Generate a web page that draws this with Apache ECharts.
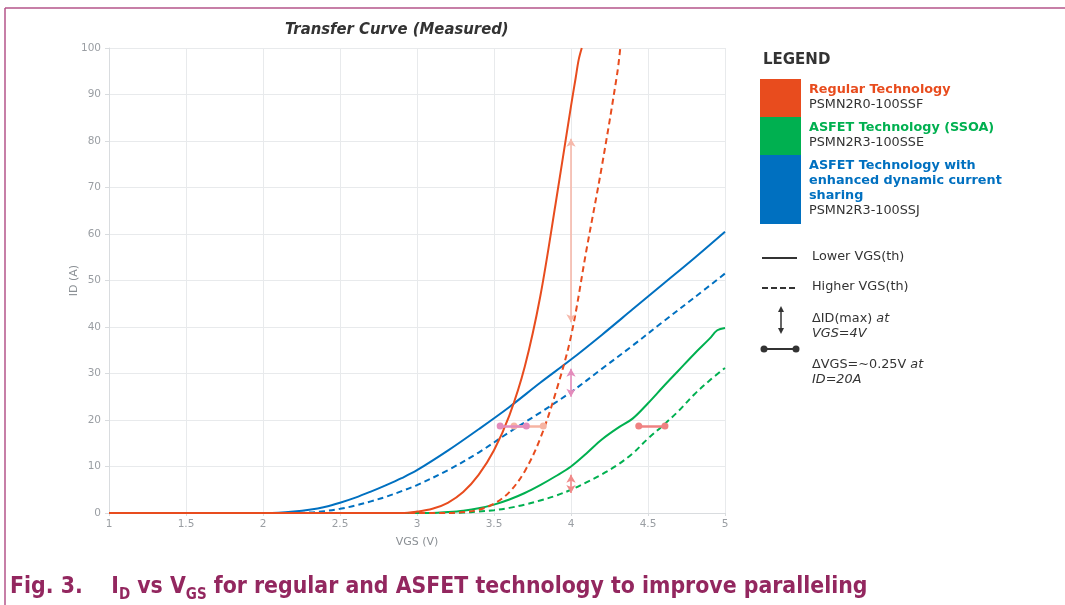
<!DOCTYPE html>
<html>
<head>
<meta charset="utf-8">
<script src="https://cdn.jsdelivr.net/npm/echarts@6/dist/echarts.min.js"></script>
<style>html,body{margin:0;padding:0;background:#fff;}#c{width:1065px;height:605px;}</style>
</head>
<body>
<div id="c"></div>
<script>
// ---- Data ----
const xTicks = [1, 1.5, 2, 2.5, 3, 3.5, 4, 4.5, 5];
const yTicks = [0, 10, 20, 30, 40, 50, 60, 70, 80, 90, 100];

const vgsRegularLow = [1, 2.9, 3.0, 3.1, 3.2, 3.3, 3.4, 3.5, 3.6, 3.7, 3.8, 3.9, 4.0, 4.03, 4.05, 4.07];
const idRegularLow  = [0, 0, 0.3, 0.9, 2.2, 4.5, 8.2, 13.5, 21.0, 31.5, 46.5, 66.5, 87.5, 93.5, 97.5, 100];

const vgsRegularHigh = [1, 3.2, 3.3, 3.4, 3.5, 3.6, 3.7, 3.8, 3.9, 4.0, 4.1, 4.2, 4.3, 4.32];
const idRegularHigh  = [0, 0, 0.2, 0.7, 2.0, 4.5, 9.0, 16.0, 25.8, 38.0, 56.5, 74.5, 94.5, 100];

const vgsSsoaLow = [1, 3.1, 3.2, 3.3, 3.4, 3.5, 3.6, 3.7, 3.8, 3.9, 4.0, 4.1, 4.2, 4.3, 4.4, 4.5, 4.6, 4.7, 4.8, 4.9, 4.95, 5.0];
const idSsoaLow  = [0, 0, 0.2, 0.5, 1.0, 1.8, 2.9, 4.3, 6.0, 7.9, 10.0, 12.8, 15.8, 18.2, 20.3, 23.6, 27.2, 30.7, 34.2, 37.5, 39.3, 39.8];

const vgsSsoaHigh = [1, 3.2, 3.3, 3.4, 3.5, 3.6, 3.7, 3.8, 3.9, 4.0, 4.1, 4.2, 4.3, 4.4, 4.5, 4.6, 4.7, 4.8, 4.9, 5.0];
const idSsoaHigh  = [0, 0, 0.1, 0.3, 0.6, 1.1, 1.8, 2.7, 3.7, 5.0, 6.6, 8.3, 10.3, 12.8, 16.0, 18.9, 22.0, 25.5, 28.5, 31.2];

const vgsSharingLow = [1, 2.0, 2.1, 2.2, 2.3, 2.4, 2.5, 2.6, 2.7, 2.8, 2.9, 3.0, 3.2, 3.4, 3.6, 3.8, 4.0, 4.2, 4.4, 4.6, 4.8, 5.0];
const idSharingLow  = [0, 0, 0.05, 0.3, 0.7, 1.3, 2.2, 3.3, 4.6, 6.0, 7.5, 9.2, 13.4, 18.0, 22.8, 28.0, 33.0, 38.3, 43.8, 49.3, 54.8, 60.5];

const vgsSharingHigh = [1, 2.2, 2.3, 2.4, 2.5, 2.6, 2.7, 2.8, 2.9, 3.0, 3.2, 3.4, 3.6, 3.8, 4.0, 4.2, 4.4, 4.6, 4.8, 5.0];
const idSharingHigh  = [0, 0, 0.1, 0.4, 0.9, 1.6, 2.5, 3.5, 4.7, 6.0, 9.2, 13.0, 17.4, 21.6, 26.0, 31.0, 36.0, 41.2, 46.3, 51.5];

// Annotations: ΔID(max) at VGS = 4 V, ΔVGS at ID ≈ 20 A
const arrowVgs = 4;
const arrowRegular = [41, 80.5];
const arrowSharing = [25, 31];
const arrowSsoa = [4.3, 8.2];
const dvgsLevel = 18.7;
const dvgsSharing = [3.54, 3.71];
const dvgsRegular = [3.63, 3.82];
const dvgsSsoa = [4.44, 4.61];

// ---- Build ----
const RED = '#e84c1e', GREEN = '#00b050', BLUE = '#0070c0';
function pairs(xs, ys) { return xs.map((x, i) => [x, ys[i]]); }
function curve(name, xs, ys, color, dashed) {
  return {
    name, type: 'line', data: pairs(xs, ys), showSymbol: false, smooth: 0.35,
    lineStyle: { color, width: 2, type: dashed ? [6, 4] : 'solid' }, z: 3, animation: false
  };
}
function vArrow(color, range) {
  return { type: 'line', data: [], markLine: { silent: true, animation: false, symbol: ['arrow', 'arrow'], symbolSize: [7, 8],
    lineStyle: { color, width: 1.6, type: 'solid' }, label: { show: false },
    data: [[{ coord: [arrowVgs, range[0]] }, { coord: [arrowVgs, range[1]] }]] }, z: 5 };
}
function hBar(color, range) {
  return { type: 'line', data: [], markLine: { silent: true, animation: false, symbol: ['circle', 'circle'], symbolSize: 7,
    lineStyle: { color, width: 2.5, type: 'solid' }, label: { show: false },
    data: [[{ coord: [range[0], dvgsLevel] }, { coord: [range[1], dvgsLevel] }]] }, z: 5 };
}

const FS = 12.8;
const g = [];
// frame
g.push({ type: 'line', shape: { x1: 5, y1: 8, x2: 1065, y2: 8 }, style: { stroke: '#b5558a', lineWidth: 1.5 } });
g.push({ type: 'line', shape: { x1: 5, y1: 8, x2: 5, y2: 605 }, style: { stroke: '#b5558a', lineWidth: 1.5 } });
// title
g.push({ type: 'text', left: 285, top: 21, style: { text: 'Transfer Curve (Measured)', font: 'italic bold 16.5px "DejaVu Sans Condensed", sans-serif', fill: '#333' } });
// caption
g.push({ type: 'text', left: 10, top: 576, style: {
  text: '{b|Fig. 3.    I}{s|D}{b| vs V}{s|GS}{b| for regular and ASFET technology to improve paralleling}',
  rich: {
    b: { fontFamily: '"DejaVu Sans Condensed", sans-serif', fontWeight: 'bold', fontSize: 22.8, fill: '#93275f', lineHeight: 26, verticalAlign: 'bottom' },
    s: { fontFamily: '"DejaVu Sans Condensed", sans-serif', fontWeight: 'bold', fontSize: 15, fill: '#93275f', lineHeight: 22, verticalAlign: 'bottom', padding: [0, 0, -4, 0] }
  } } });
// legend
g.push({ type: 'text', left: 763, top: 53, style: { text: 'LEGEND', font: 'bold 15px "DejaVu Sans", sans-serif', fill: '#333' } });
g.push({ type: 'rect', shape: { x: 760, y: 79, width: 41, height: 38 }, style: { fill: RED } });
g.push({ type: 'rect', shape: { x: 760, y: 117, width: 41, height: 38 }, style: { fill: GREEN } });
g.push({ type: 'rect', shape: { x: 760, y: 155, width: 41, height: 69 }, style: { fill: BLUE } });
function lt(x, y, text, color, bold) {
  g.push({ type: 'text', left: x, top: y, style: { text, font: (bold ? 'bold ' : '') + FS + 'px "DejaVu Sans", sans-serif', fill: color } });
}
lt(809, 83, 'Regular Technology', RED, true);
lt(809, 98, 'PSMN2R0-100SSF', '#333');
lt(809, 121, 'ASFET Technology (SSOA)', GREEN, true);
lt(809, 136, 'PSMN2R3-100SSE', '#333');
lt(809, 159, 'ASFET Technology with', BLUE, true);
lt(809, 174, 'enhanced dynamic current', BLUE, true);
lt(809, 189, 'sharing', BLUE, true);
lt(809, 204, 'PSMN2R3-100SSJ', '#333');
g.push({ type: 'line', shape: { x1: 762, y1: 258, x2: 797, y2: 258 }, style: { stroke: '#333', lineWidth: 2 } });
lt(812, 250, 'Lower VGS(th)', '#333');
g.push({ type: 'line', shape: { x1: 762, y1: 288, x2: 797, y2: 288 }, style: { stroke: '#333', lineWidth: 2, lineDash: [6, 3] } });
lt(812, 280, 'Higher VGS(th)', '#333');
g.push({ type: 'line', shape: { x1: 781, y1: 309, x2: 781, y2: 331 }, style: { stroke: '#333', lineWidth: 1.5 } });
g.push({ type: 'polygon', shape: { points: [[781, 306], [778, 312], [784, 312]] }, style: { fill: '#333' } });
g.push({ type: 'polygon', shape: { points: [[781, 334], [778, 328], [784, 328]] }, style: { fill: '#333' } });
const italicRich = { i: { fontStyle: 'italic', fontFamily: 'DejaVu Sans', fontSize: FS, fill: '#333', lineHeight: 15 } };
g.push({ type: 'text', left: 812, top: 311, style: { text: 'ΔID(max) {i|at}\n{i|VGS=4V}', font: FS + 'px "DejaVu Sans", sans-serif', fill: '#333', lineHeight: 15, rich: italicRich } });
g.push({ type: 'line', shape: { x1: 764, y1: 349, x2: 796, y2: 349 }, style: { stroke: '#333', lineWidth: 2 } });
g.push({ type: 'circle', shape: { cx: 764, cy: 349, r: 3.5 }, style: { fill: '#333' } });
g.push({ type: 'circle', shape: { cx: 796, cy: 349, r: 3.5 }, style: { fill: '#333' } });
g.push({ type: 'text', left: 812, top: 357, style: { text: 'ΔVGS=~0.25V {i|at}\n{i|ID=20A}', font: FS + 'px "DejaVu Sans", sans-serif', fill: '#333', lineHeight: 15, rich: italicRich } });

const chart = echarts.init(document.getElementById('c'), null, { renderer: 'canvas' });
chart.setOption({
  animation: false,
  grid: { left: 109, right: 340, top: 48, bottom: 92, containLabel: false },
  xAxis: {
    type: 'value', min: xTicks[0], max: xTicks[xTicks.length - 1], interval: 0.5,
    name: 'VGS (V)', nameLocation: 'middle', nameGap: 24,
    nameTextStyle: { color: '#8a8f94', fontFamily: 'DejaVu Sans', fontSize: 11 },
    axisLine: { show: true, lineStyle: { color: '#d9dcdf' } },
    axisTick: { show: true, length: 3, lineStyle: { color: '#d9dcdf' } },
    axisLabel: { color: '#9a9ea3', fontFamily: 'DejaVu Sans', fontSize: 10.5, margin: 6 },
    splitLine: { show: true, lineStyle: { color: '#e8eaec' } }
  },
  yAxis: {
    type: 'value', min: yTicks[0], max: yTicks[yTicks.length - 1], interval: 10,
    name: 'ID (A)', nameLocation: 'middle', nameGap: 29, nameRotate: 90, nameMoveOverlap: false,
    nameTextStyle: { color: '#8a8f94', fontFamily: 'DejaVu Sans', fontSize: 11 },
    axisLine: { show: true, lineStyle: { color: '#d9dcdf' } },
    axisTick: { show: true, length: 4, lineStyle: { color: '#d9dcdf' } },
    axisLabel: { color: '#9a9ea3', fontFamily: 'DejaVu Sans', fontSize: 10.5, margin: 8 },
    splitLine: { show: true, lineStyle: { color: '#e8eaec' } }
  },
  series: [
    curve('Sharing high', vgsSharingHigh, idSharingHigh, BLUE, true),
    curve('Sharing low', vgsSharingLow, idSharingLow, BLUE, false),
    curve('SSOA high', vgsSsoaHigh, idSsoaHigh, GREEN, true),
    curve('SSOA low', vgsSsoaLow, idSsoaLow, GREEN, false),
    curve('Regular high', vgsRegularHigh, idRegularHigh, RED, true),
    curve('Regular low', vgsRegularLow, idRegularLow, RED, false),
    vArrow('#f6b8aa', arrowRegular),
    vArrow('#e48cbc', arrowSharing),
    vArrow('#f08a8a', arrowSsoa),
    hBar('#f6b4a2', dvgsRegular),
    hBar('#e48cbc', dvgsSharing),
    hBar('#ef8282', dvgsSsoa)
  ],
  graphic: g
});
</script>
</body>
</html>
